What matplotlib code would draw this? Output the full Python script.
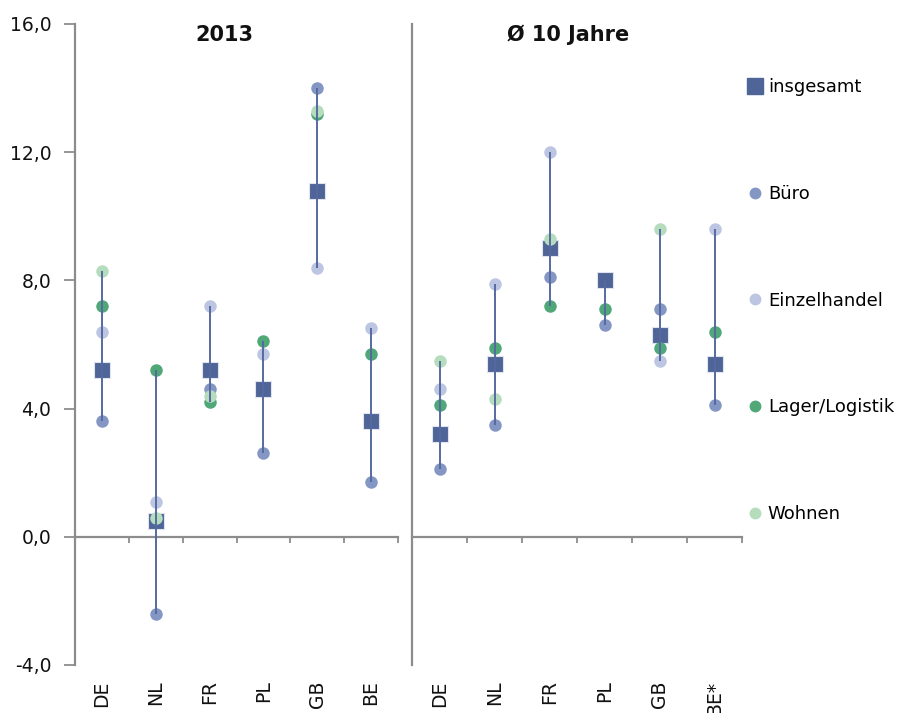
import numpy as np
import matplotlib
matplotlib.use("Agg")
import matplotlib.pyplot as plt
from matplotlib.lines import Line2D
import matplotlib.transforms as mtransforms

# Werte (nan = kein Wert)
nan = np.nan
cats_2013 = ['DE', 'NL', 'FR', 'PL', 'GB', 'BE']
cats_10j = ['DE', 'NL', 'FR', 'PL', 'GB', 'BE*']

insg_2013 = [5.2, 0.5, 5.2, 4.6, 10.8, 3.6]
buero_2013 = [3.6, -2.4, 4.6, 2.6, 14.0, 1.7]
einzel_2013 = [6.4, 1.1, 7.2, 5.7, 8.4, 6.5]
lager_2013 = [7.2, 5.2, 4.2, 6.1, 13.2, 5.7]
wohnen_2013 = [8.3, 0.6, 4.4, nan, 13.3, nan]

insg_10j = [3.2, 5.4, 9.0, 8.0, 6.3, 5.4]
buero_10j = [2.1, 3.5, 8.1, 6.6, 7.1, 4.1]
einzel_10j = [4.6, 7.9, 12.0, nan, 5.5, 9.6]
lager_10j = [4.1, 5.9, 7.2, 7.1, 5.9, 6.4]
wohnen_10j = [5.5, 4.3, 9.3, nan, 9.6, nan]

yticks = [-4, 0, 4, 8, 12, 16]

c_insg = '#4f6598'
c_buero = '#8496c4'
c_einzel = '#bcc6e2'
c_lager = '#50a778'
c_wohnen = '#b5dcbd'
c_line = '#566aa1'
c_axis = '#8c8c8c'

plt.rcParams['font.family'] = 'DejaVu Sans'

fig = plt.figure(figsize=(9.11, 7.13), dpi=100)
ax1 = fig.add_axes([75/911, 1-665/713, 323/911, 641/713])
ax2 = fig.add_axes([412/911, 1-665/713, 330/911, 641/713])


def draw_panel(ax, cats, insg, buero, einzel, lager, wohnen, title, tx):
    x = np.arange(len(cats)) + 0.5
    allv = np.array([insg, buero, einzel, lager, wohnen], dtype=float)
    # Hoch-Tief-Linien zwischen kleinstem und größtem Wert
    ax.vlines(x, np.nanmin(allv, axis=0), np.nanmax(allv, axis=0),
              color=c_line, lw=1.4, zorder=5)
    ax.plot(x, insg, 's', ms=11, color=c_insg, mec='#dfe4ef', mew=0.8, zorder=3)
    for vals, col in [(buero, c_buero), (einzel, c_einzel),
                      (lager, c_lager), (wohnen, c_wohnen)]:
        ax.plot(x, vals, 'o', ms=9, color=col, mec='none', zorder=4)

    ax.set_xlim(0, len(cats))
    ax.set_ylim(-4, 16)
    ax.set_xticks(np.arange(len(cats) + 1))
    ax.set_xticklabels([])
    ax.tick_params(axis='x', direction='out', length=4, width=1.3, color=c_axis)
    ax.spines['bottom'].set_position(('data', 0))
    for s in ['top', 'right']:
        ax.spines[s].set_visible(False)
    for s in ['left', 'bottom']:
        ax.spines[s].set_color(c_axis)
        ax.spines[s].set_linewidth(1.6)

    trans = mtransforms.blended_transform_factory(ax.transData, ax.transAxes)
    for xi, lab in zip(x, cats):
        ax.text(xi, -0.024, lab, transform=trans, rotation=90,
                ha='center', va='top', fontsize=13.5, color='#111111')
    ax.text(tx, 0.983, title, transform=ax.transAxes, ha='center', va='center',
            fontsize=15, fontweight='bold', color='#111111')


draw_panel(ax1, cats_2013, insg_2013, buero_2013, einzel_2013, lager_2013,
           wohnen_2013, '2013', 0.464)
draw_panel(ax2, cats_10j, insg_10j, buero_10j, einzel_10j, lager_10j,
           wohnen_10j, 'Ø 10 Jahre', 0.473)

ax1.set_yticks(yticks)
ax1.set_yticklabels([f'{v:.1f}'.replace('.', ',') for v in yticks])
ax1.tick_params(axis='y', direction='out', length=8, width=1.3, color=c_axis,
                pad=9, labelsize=13.5, labelcolor='#111111')
ax2.set_yticks([])

handles = [
    Line2D([], [], ls='none', marker='s', ms=11, color=c_insg),
    Line2D([], [], ls='none', marker='o', ms=7.5, color=c_buero),
    Line2D([], [], ls='none', marker='o', ms=7.5, color=c_einzel),
    Line2D([], [], ls='none', marker='o', ms=7.5, color=c_lager),
    Line2D([], [], ls='none', marker='o', ms=7.5, color=c_wohnen),
]
labels = ['insgesamt', 'Büro', 'Einzelhandel', 'Lager/Logistik', 'Wohnen']
fig.legend(handles, labels, loc='upper left', bbox_to_anchor=(748/911, 1-78/713),
           frameon=False, fontsize=13, labelspacing=4.92, handlelength=0.8,
           handletextpad=0.3, borderaxespad=0, borderpad=0)

fig.savefig('out.png', dpi=100)
